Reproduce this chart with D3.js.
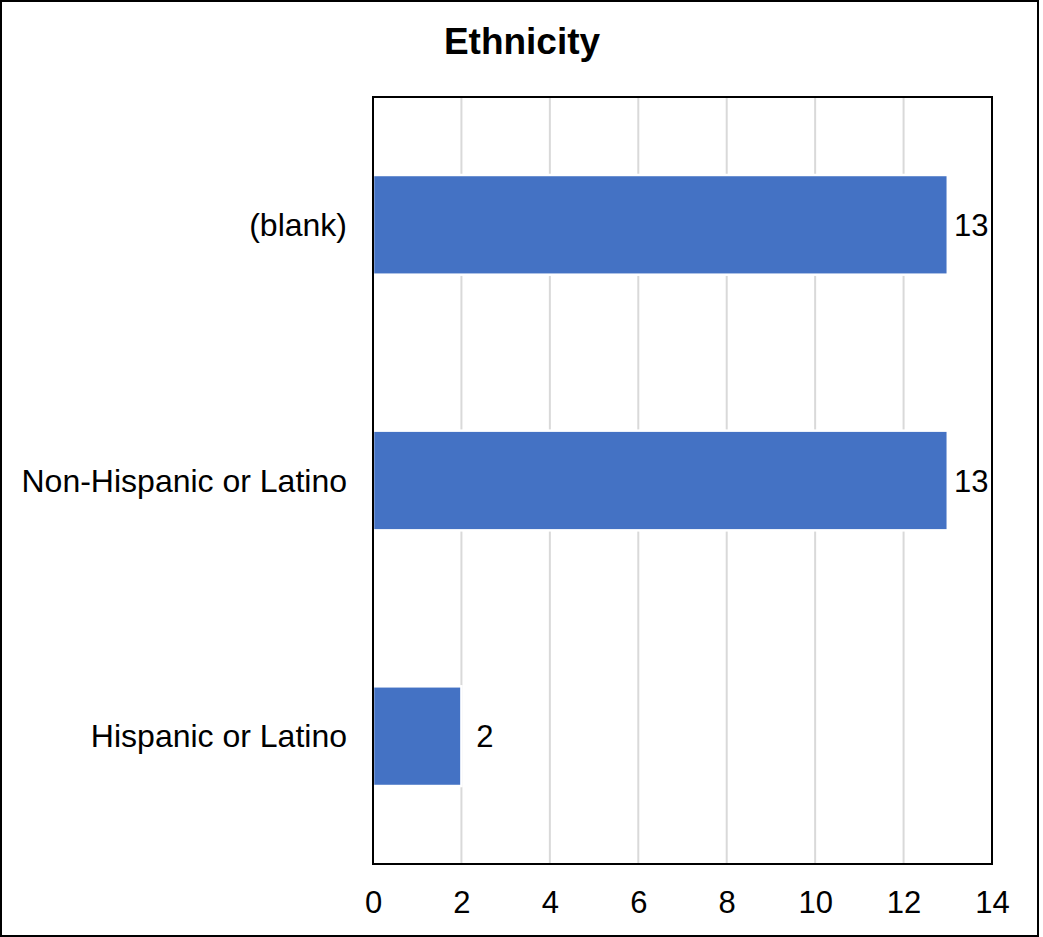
<!DOCTYPE html>
<html>
<head>
<meta charset="utf-8">
<script src="https://cdn.jsdelivr.net/npm/d3@7"></script>
<style>
  html, body { margin: 0; padding: 0; background: #fff; }
  svg { display: block; }
  text { font-family: "Liberation Sans", Arial, sans-serif; fill: #000; }
</style>
</head>
<body>
<svg id="chart" width="1043" height="937"></svg>
<script>
const title = "Ethnicity";
const categories = ["(blank)", "Non-Hispanic or Latino", "Hispanic or Latino"];
const values = [13, 13, 2];
const xTicks = [0, 2, 4, 6, 8, 10, 12, 14];

const svg = d3.select("#chart");
const plot = { left: 373, right: 992, top: 97, bottom: 864 };

// outer frame
svg.append("rect")
  .attr("x", 1).attr("y", 1).attr("width", 1037).attr("height", 935)
  .attr("fill", "#fff").attr("stroke", "#000").attr("stroke-width", 2);

const x = d3.scaleLinear().domain([0, 14]).range([plot.left, plot.right]);
const y = d3.scaleBand().domain(categories).range([plot.top, plot.bottom])
  .paddingInner(0.61).paddingOuter(0.305);

// gridlines
svg.append("g").selectAll("line").data(xTicks.slice(1, -1)).join("line")
  .attr("x1", d => x(d)).attr("x2", d => x(d))
  .attr("y1", plot.top).attr("y2", plot.bottom)
  .attr("stroke", "#d9d9d9").attr("stroke-width", 2);

// bars
svg.append("g").selectAll("rect").data(categories).join("rect")
  .attr("x", x(0))
  .attr("y", d => y(d))
  .attr("width", (d, i) => x(values[i]) - x(0))
  .attr("height", y.bandwidth())
  .attr("fill", "#4472c4")
  .attr("stroke", "#fff").attr("stroke-width", 2.5);

// plot border
svg.append("rect")
  .attr("x", plot.left).attr("y", plot.top)
  .attr("width", plot.right - plot.left).attr("height", plot.bottom - plot.top)
  .attr("fill", "none").attr("stroke", "#000").attr("stroke-width", 2);

// x axis labels
const xAxis = d3.axisBottom(x).tickValues(xTicks).tickSize(0).tickPadding(0);
const gx = svg.append("g").attr("transform", `translate(0,${plot.bottom})`).call(xAxis);
gx.select(".domain").remove();
gx.selectAll("text")
  .attr("y", 49).attr("dy", null)
  .style("font-size", "31px")
  .style("font-family", "'Liberation Sans', Arial, sans-serif")
  .attr("fill", "#000");

// y axis labels
const yAxis = d3.axisLeft(y).tickSize(0).tickPadding(0);
const gy = svg.append("g").attr("transform", `translate(${plot.left - 26},0)`).call(yAxis);
gy.select(".domain").remove();
gy.selectAll("text")
  .attr("dy", "0.35em")
  .style("font-size", "32px")
  .style("font-family", "'Liberation Sans', Arial, sans-serif")
  .attr("fill", "#000");

// value labels
svg.append("g").selectAll("text").data(categories).join("text")
  .attr("x", (d, i) => x(values[i]) + 23.5)
  .attr("y", d => y(d) + y.bandwidth() / 2)
  .attr("dy", "0.36em")
  .attr("text-anchor", "middle")
  .style("font-size", "31px")
  .text((d, i) => values[i]);

// title
svg.append("text")
  .attr("x", 522).attr("y", 54)
  .attr("text-anchor", "middle")
  .style("font-size", "37px").style("font-weight", "bold")
  .text(title);
</script>
</body>
</html>
